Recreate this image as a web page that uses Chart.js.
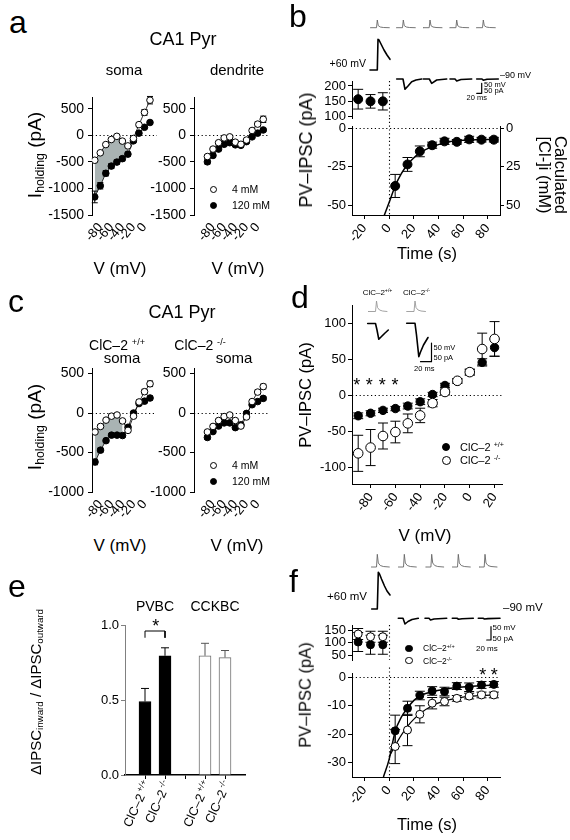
<!DOCTYPE html>
<html>
<head>
<meta charset="utf-8">
<script src="https://cdn.jsdelivr.net/npm/chart.js@4.4.0/dist/chart.umd.min.js"></script>
<style>
  html, body { margin: 0; padding: 0; background: #fff; }
  #fig { position: relative; width: 570px; height: 840px; overflow: hidden; font-family: "Liberation Sans", Arial, sans-serif; color: #000; }
  #fig canvas { position: absolute; }
  .t { position: absolute; white-space: nowrap; line-height: 1; }
  .t sup, .t sub { font-size: 0.65em; line-height: 0; }
  .t sup { vertical-align: 0.55em; }
  .t sub { vertical-align: -0.3em; }
  .dot { position: absolute; border-radius: 50%; box-sizing: border-box; border: 1px solid #000; }
</style>
</head>
<body>
<div id="fig"></div>
<script>
// ---- valeurs ----
const vSteps = [-90, -80, -70, -60, -50, -40, -30, -20, -10, 0, 10];
const vTicks = [-80, -60, -40, -20, 0];
const iTicksA = [-1500, -1000, -500, 0, 500];
const iTicksC = [-1000, -500, 0, 500];

// a : soma / dendrite, 4 mM (ouverts) et 120 mM (pleins)
const aSoma4 = [-470, -330, -175, -80, -20, -110, -200, -60, 200, 430, 660];
const aSoma4Err = [25, 25, 20, 20, 20, 25, 30, 30, 40, 55, 70];
const aSoma120 = [-1160, -950, -715, -580, -505, -440, -355, -105, 40, 150, 240];
const aSoma120Err = [110, 60, 50, 45, 40, 40, 35, 30, 30, 25, 30];
const aDend4 = [-400, -260, -140, -50, -30, -130, -170, -90, 90, 210, 300];
const aDend4Err = [30, 30, 25, 20, 20, 25, 25, 25, 30, 40, 60];
const aDend120 = [-500, -380, -260, -170, -140, -180, -190, -120, -30, 40, 100];
const aDend120Err = [40, 35, 30, 25, 25, 25, 25, 25, 25, 25, 30];

// c : ClC-2 +/+ et -/-
const cWT4 = [-240, -170, -90, -40, -25, -100, -220, -40, 140, 270, 370];
const cWT4Err = [20, 20, 15, 15, 15, 15, 20, 20, 25, 30, 35];
const cWT120 = [-620, -470, -350, -280, -280, -285, -180, 0, 120, 150, 190];
const cWT120Err = [35, 25, 20, 20, 20, 20, 20, 20, 20, 20, 25];
const cKO4 = [-240, -170, -95, -45, -25, -95, -165, -50, 145, 265, 335];
const cKO4Err = [20, 20, 15, 15, 15, 15, 20, 20, 20, 25, 30];
const cKO120 = [-310, -235, -165, -125, -125, -185, -150, -5, 105, 145, 185];
const cKO120Err = [25, 20, 20, 20, 20, 20, 20, 20, 20, 20, 20];

// b : PV-IPSC dans le temps
const timeTicks = [-20, 0, 20, 40, 60, 80];
const bBaseT = [-25, -15, -5];
const bBase = [157, 150, 150];
const bBaseErr = [32, 22, 28];
const bBaseTicks = [100, 150, 200];
const bT = [5, 15, 25, 35, 45, 55, 65, 75, 85];
const bIPSC = [-37.5, -23.5, -15, -11, -8.5, -8.8, -7.2, -7.4, -7.4];
const bErr = [7.5, 4.5, 3.5, 2, 2, 1.5, 2, 1.5, 1.5];
const bTicks = [-50, -25, 0];
const bFitT = [-4, 0, 5, 10, 15, 20, 25, 30, 40, 50, 60, 70, 85];
const bFit = [-57, -48.5, -37.5, -29.5, -23.5, -19.3, -16, -13.7, -10.6, -8.6, -7.8, -7.5, -7.3];

// d : courbe I-V ClC-2
const dV = [-90, -80, -70, -60, -50, -40, -30, -20, -10, 0, 10, 20];
const dWT = [-28.5, -25, -21, -18.5, -15, -9, 1, 13.5, 19.5, 32, 45.5, 66];
const dWTErr = [4, 3.5, 3, 3, 4, 4, 3, 3, 3, 4, 5, 12];
const dKO = [-80.5, -72.5, -56.5, -51, -39, -28, -11, 4.5, 20, 32, 64, 78];
const dKOErr = [25, 25, 18, 15, 13, 10, 5, 4, 3, 4, 22, 24];
const dTicksX = [-80, -60, -40, -20, 0, 20];
const dTicksY = [-100, -50, 0, 50, 100];

// e : rapport entrant / sortant
const eLabels = ['ClC–2 +/+', 'ClC–2 -/-', '', 'ClC–2 +/+', 'ClC–2 -/-'];
const ePvbcPos = [1, 2];
const ePvbc = [0.49, 0.795];
const ePvbcErr = [0.087, 0.053];
const eCckbcPos = [4, 5];
const eCckbc = [0.795, 0.783];
const eCckbcErr = [0.083, 0.047];
const eBracketX = [1, 1, 2, 2];
const eBracketY = [0.915, 0.96, 0.96, 0.915];

// f : ClC-2 +/+ (pleins) et -/- (ouverts)
const fBaseWT = [102, 91, 91];
const fBaseWTErr = [38, 38, 38];
const fBaseKO = [134, 123, 123];
const fBaseKOErr = [22, 22, 22];
const fBaseTicks = [50, 100, 150];
const fWT = [-18.8, -10.9, -6.4, -4.8, -5, -3.1, -3.5, -2.7, -2.5];
const fWTErr = [5.5, 2.5, 1.5, 1.5, 1.5, 1.2, 1.5, 1.2, 1];
const fKO = [-24.3, -18.5, -13, -9.1, -8.5, -7.4, -6.6, -6.2, -6.2];
const fKOErr = [6, 5.5, 3, 2, 1.5, 1, 1, 1, 1];
const fTicks = [-30, -20, -10, 0];
const fFitWTT = [-4.5, 0, 5, 10, 15, 20, 25, 35, 45, 55, 65, 85];
const fFitWT = [-35, -29, -19, -14, -10.8, -8.2, -6.6, -5, -4.2, -3.6, -3.2, -2.7];
const fFitKOT = [0, 5, 10, 15, 20, 25, 35, 45, 55, 65, 85];
const fFitKO = [-28, -24, -20.3, -17.2, -14.8, -12.8, -10, -8.3, -7.3, -6.7, -6.2];

// traces (ms, unités arbitraires)
const bSpikePeaks = [57.3, 83.3, 110, 136.7, 163.3];
const bSpikeDt = [-7, -0.8, 0, 1, 3, 6, 12];
const bSpikeDv = [0, 0, 7.7, 2, 0.7, 0.2, 0];
const bStepT = [50, 57.3, 58, 59, 61, 64, 67, 70];
const bStepV = [45, 45, 75.7, 75, 71, 65, 60, 55.7];
const bSweepT = [[76.7, 83, 85, 88, 91.7, 96, 101.7], [103.3, 109.3, 111.7, 116.7, 126.7], [130, 135, 136.7, 141, 151.7], [156.7, 162, 163.3, 167, 178.3]];
const bSweepV = [[36, 36, 25.7, 29, 33.3, 35, 36], [36, 36, 31.7, 35, 36], [36, 36, 34, 35.5, 36], [36, 36, 34.8, 35.7, 36]];
const bBarT = [156.7, 161.7, 161.7];
const bBarV = [21.7, 21.7, 31.7];

const dSpikePeaks = [16.5, 55];
const dSpikeDt = [-8.5, -1, 0, 1, 3, 6, 10.5];
const dSpikeDv = [0, 0, 10.5, 4, 1.5, 0.5, 0];
const dSweepT = [[7.7, 15.5, 17, 18.8, 21, 24.5, 28.3], [46.7, 55, 56.5, 58.8, 60.5, 63.5, 68]];
const dSweepV = [[56.5, 56.5, 50, 40.7, 43, 46.5, 50], [56.7, 56.7, 45, 23.3, 28, 35, 42.5]];
const dBarT = [60.5, 71.5, 71.5];
const dBarV = [18.3, 18.3, 37];

const fSpikePeaks = [57.3, 84.3, 111.7, 138.3, 165];
const fSpikeDt = [-6, -0.8, 0, 1, 3, 6, 12];
const fSpikeDv = [0, 0, 12.7, 4, 1.5, 0.5, 0];
const fStepT = [51.7, 57.3, 58.3, 59.5, 61.5, 64.5, 67, 70];
const fStepV = [36, 36, 72.7, 71, 66, 59, 54, 50];
const fSweepT = [[78.3, 83, 85, 88, 92, 98.3], [105, 109, 110.5, 114, 126.7], [132.3, 137, 138.5, 142, 153.3], [158.3, 163, 164.5, 168, 180]];
const fSweepV = [[26.7, 26.7, 21, 23.5, 25.5, 26.7], [26.7, 26.7, 25, 26, 26.7], [26.7, 26.7, 25.8, 26.3, 26.7], [26.7, 26.7, 26, 26.4, 26.7]];
const fBarT = [166.7, 171, 171];
const fBarV = [5, 5, 18.3];

// ---- mise en place ----
const fig = document.getElementById('fig');
const shadeGrey = '#a9b3b3';
const fontFamily = '"Liberation Sans", Arial, sans-serif';
const zip = (xs, ys) => xs.map((x, i) => ({x: x, y: ys[i]}));

Chart.defaults.font.family = fontFamily;
Chart.defaults.color = '#000';

// barres d'erreur
const errorBars = {
  id: 'errorBars',
  beforeDatasetsDraw(chart) {
    const ctx = chart.ctx;
    chart.data.datasets.forEach((ds, i) => {
      if (!ds.errors) return;
      const meta = chart.getDatasetMeta(i);
      const ys = chart.scales[meta.yAxisID];
      const cap = ds.capHalf || 4;
      ctx.save();
      ctx.strokeStyle = ds.errorColor || '#000';
      ctx.lineWidth = 1;
      meta.data.forEach((el, j) => {
        const e = ds.errors[j];
        if (e == null) return;
        const v = ds.data[j].y;
        const yTop = ys.getPixelForValue(v + e);
        const yBot = ds.errorUpOnly ? el.y : ys.getPixelForValue(v - e);
        ctx.beginPath();
        ctx.moveTo(el.x, yTop); ctx.lineTo(el.x, yBot);
        ctx.moveTo(el.x - cap, yTop); ctx.lineTo(el.x + cap, yTop);
        if (!ds.errorUpOnly) { ctx.moveTo(el.x - cap, yBot); ctx.lineTo(el.x + cap, yBot); }
        ctx.stroke();
      });
      ctx.restore();
    });
  }
};

// lignes pointillées à zéro
const refLines = {
  id: 'refLines',
  beforeDatasetsDraw(chart, args, opts) {
    const a = chart.chartArea, ctx = chart.ctx;
    ctx.save();
    ctx.setLineDash([1.2, 2.6]);
    ctx.lineWidth = 1.1;
    ctx.strokeStyle = '#000';
    (opts.h || []).forEach(v => {
      const y = Math.round(chart.scales.y.getPixelForValue(v)) + 0.5;
      ctx.beginPath(); ctx.moveTo(a.left, y); ctx.lineTo(a.right, y); ctx.stroke();
    });
    (opts.v || []).forEach(v => {
      const x = Math.round(chart.scales.x.getPixelForValue(v)) + 0.5;
      ctx.beginPath(); ctx.moveTo(x, a.top - (opts.vUp || 0)); ctx.lineTo(x, a.bottom); ctx.stroke();
    });
    ctx.restore();
  }
};

// étiquettes avec exposant (panneau e)
const supTicks = {
  id: 'supTicks',
  afterDraw(chart, args, opts) {
    if (!opts.labels) return;
    const ctx = chart.ctx, sx = chart.scales.x, y0 = chart.chartArea.bottom + 7;
    opts.labels.forEach((lab, i) => {
      if (!lab) return;
      const parts = lab.split(' ');
      ctx.save();
      ctx.translate(sx.getPixelForValue(opts.values[i]) + 3, y0);
      ctx.rotate(-opts.rot * Math.PI / 180);
      ctx.textAlign = 'right';
      ctx.textBaseline = 'middle';
      ctx.fillStyle = '#000';
      ctx.font = '8.5px ' + fontFamily;
      const sw = ctx.measureText(parts[1]).width;
      ctx.fillText(parts[1], 0, -4);
      ctx.font = '12.5px ' + fontFamily;
      ctx.fillText(parts[0], -sw - 2, 0);
      ctx.restore();
    });
  }
};
Chart.register(errorBars, refLines, supTicks);

function makeChart(area, pad, cfg) {
  const c = document.createElement('canvas');
  const w = area.r - area.l + pad.l + pad.r;
  const h = area.b - area.t + pad.t + pad.b;
  c.width = w; c.height = h;
  c.style.left = (area.l - pad.l) + 'px';
  c.style.top = (area.t - pad.t) + 'px';
  c.style.width = w + 'px';
  c.style.height = h + 'px';
  fig.appendChild(c);
  const o = cfg.options = cfg.options || {};
  o.responsive = false;
  o.animation = false;
  o.devicePixelRatio = 1;
  const used = {left: false, right: false, bottom: false};
  Object.values(o.scales || {}).forEach(s => {
    if (s.display === false) return;
    const side = s.position;
    used[side] = true;
    const size = side === 'bottom' ? pad.b : side === 'left' ? pad.l : pad.r;
    s.afterFit = sc => {
      if (side === 'bottom') sc.height = size; else sc.width = size;
      sc.paddingLeft = sc.paddingRight = sc.paddingTop = sc.paddingBottom = 0;
    };
  });
  o.layout = {padding: {left: used.left ? 0 : pad.l, right: used.right ? 0 : pad.r, top: pad.t, bottom: used.bottom ? 0 : pad.b}};
  o.plugins = Object.assign({legend: {display: false}, tooltip: {enabled: false}}, o.plugins || {});
  return new Chart(c, cfg);
}

function axis(pos, min, max, ticks, o = {}) {
  return {
    type: 'linear', position: pos, min: min, max: max, bounds: 'data',
    display: !o.hidden, offset: false,
    afterBuildTicks: s => { s.ticks = ticks.map(v => ({value: v})); },
    ticks: {
      autoSkip: false, color: '#000', font: {size: o.size || 13},
      padding: o.padding != null ? o.padding : 2,
      minRotation: o.rot || 0, maxRotation: o.rot || 0,
      callback: o.fmt || (v => String(v))
    },
    grid: {display: o.marks !== false, offset: false, drawOnChartArea: false, drawTicks: true, tickLength: 4, color: o.color || '#000', lineWidth: 1},
    border: {display: o.line !== false, color: o.color || '#000', width: o.lw || 1}
  };
}

function pointSet(data, errors, filled, r, extra) {
  return Object.assign({
    data: data, errors: errors, showLine: false,
    pointRadius: r, pointBorderWidth: 1, pointBorderColor: '#000',
    pointBackgroundColor: filled ? '#000' : '#fff'
  }, extra || {});
}

function label(html, x, y, size, o = {}) {
  const d = document.createElement('div');
  d.className = 't';
  d.innerHTML = html;
  const tx = o.align === 'left' ? '0' : o.align === 'right' ? '-100%' : '-50%';
  d.style.left = x + 'px';
  d.style.top = y + 'px';
  d.style.fontSize = size + 'px';
  if (o.lh) { d.style.lineHeight = o.lh; d.style.textAlign = 'center'; }
  d.style.transform = 'translate(' + tx + ', -50%)' + (o.rot ? ' rotate(' + o.rot + 'deg)' : '');
  fig.appendChild(d);
}

function marker(x, y, r, filled) {
  const d = document.createElement('div');
  d.className = 'dot';
  d.style.left = (x - r) + 'px';
  d.style.top = (y - r) + 'px';
  d.style.width = d.style.height = (2 * r) + 'px';
  d.style.background = filled ? '#000' : '#fff';
  fig.appendChild(d);
}

// courbes I-V des panneaux a et c
function makeIV(area, xr, yr, yTicks, open, openErr, filled, filledErr, shadeTo) {
  const lineOpts = {showLine: true, borderColor: '#000', borderWidth: 0.8, capHalf: 3};
  const ds = [
    pointSet(zip(vSteps, open), openErr, false, 3.3, Object.assign({order: 0}, lineOpts)),
    pointSet(zip(vSteps, filled), filledErr, true, 3.3, Object.assign({order: 1}, lineOpts))
  ];
  if (shadeTo != null) {
    const k = vSteps.indexOf(shadeTo) + 1;
    ds.push({data: zip(vSteps, filled).slice(0, k), showLine: true, borderWidth: 0, pointRadius: 0, fill: false, order: 3});
    ds.push({data: zip(vSteps, open).slice(0, k), showLine: true, borderWidth: 0, pointRadius: 0, fill: '-1', backgroundColor: shadeGrey, order: 2});
  }
  makeChart(area, {l: 52, r: 8, t: 10, b: 26}, {
    type: 'scatter',
    data: {datasets: ds},
    options: {
      scales: {
        x: axis('bottom', xr[0], xr[1], vTicks, {rot: 50, size: 13, line: false, marks: false, padding: 1}),
        y: axis('left', yr[0], yr[1], yTicks, {size: 14, padding: 4})
      },
      plugins: {refLines: {h: [0]}, filler: {drawTime: 'beforeDatasetsDraw'}}
    }
  });
}

function spikes(peaks, dt, dv, base) {
  return peaks.map(p => ({t: dt.map(d => p + d), v: dv.map(d => base + d)}));
}

function traceChart(box, lines) {
  makeChart({l: box.l, r: box.l + box.w, t: box.t, b: box.t + box.h}, {l: 0, r: 0, t: 0, b: 0}, {
    type: 'scatter',
    data: {datasets: lines.map(L => ({
      data: zip(L.t, L.v), showLine: true, pointRadius: 0, clip: false,
      borderColor: L.color, borderWidth: L.width, borderJoinStyle: 'round', borderCapStyle: 'round'
    }))},
    options: {scales: {
      x: {type: 'linear', display: false, min: 0, max: box.w},
      y: {type: 'linear', display: false, min: 0, max: box.h}
    }}
  });
}

// ---------- a ----------
makeIV({l: 92, r: 157, t: 97, b: 215}, [-95, 22.7], [-1500, 720], iTicksA, aSoma4, aSoma4Err, aSoma120, aSoma120Err, -30);
makeIV({l: 194, r: 268, t: 97, b: 215}, [-114, 18.5], [-1500, 720], iTicksA, aDend4, aDend4Err, aDend120, aDend120Err, null);
label('a', 9, 22, 32, {align: 'left'});
label('CA1 Pyr', 183, 39, 18);
label('soma', 124, 69, 15);
label('dendrite', 237, 69, 15);
label('I<sub>holding</sub> (pA)', 34, 155, 19, {rot: -90});
label('V (mV)', 120, 268, 17);
label('V (mV)', 238, 268, 17);
marker(213, 189, 3.5, false); label('4 mM', 232, 189, 10.5, {align: 'left'});
marker(213, 205, 3.5, true); label('120 mM', 232, 205, 10.5, {align: 'left'});

// ---------- c ----------
makeIV({l: 92, r: 155, t: 368, b: 492}, [-95.5, 19], [-1000, 570], iTicksC, cWT4, cWT4Err, cWT120, cWT120Err, -40);
makeIV({l: 194, r: 268, t: 368, b: 492}, [-114, 18.5], [-1000, 570], iTicksC, cKO4, cKO4Err, cKO120, cKO120Err, null);
label('c', 8, 301, 32, {align: 'left'});
label('CA1 Pyr', 182, 312, 18);
label('ClC–2 <sup>+/+</sup>', 117, 345, 14);
label('ClC–2 <sup>-/-</sup>', 200, 345, 14);
label('soma', 122, 357, 15);
label('soma', 234, 357, 15);
label('I<sub>holding</sub> (pA)', 34, 427, 19, {rot: -90});
label('V (mV)', 120, 545, 17);
label('V (mV)', 237, 545, 17);
marker(213, 465, 3.5, false); label('4 mM', 232, 465, 10.5, {align: 'left'});
marker(213, 481, 3.5, true); label('120 mM', 232, 481, 10.5, {align: 'left'});

// ---------- b ----------
makeChart({l: 352, r: 500, t: 81, b: 118}, {l: 40, r: 30, t: 8, b: 8}, {
  type: 'scatter',
  data: {datasets: [pointSet(zip(bBaseT, bBase), bBaseErr, true, 4.5, {capHalf: 5})]},
  options: {
    scales: {x: axis('bottom', -30, 90, [], {hidden: true}), y: axis('left', 96, 216, bBaseTicks)},
    plugins: {refLines: {v: [0]}}
  }
});
makeChart({l: 352, r: 500, t: 126, b: 215}, {l: 40, r: 30, t: 8, b: 40}, {
  type: 'scatter',
  data: {datasets: [
    pointSet(zip(bT, bIPSC), bErr, true, 4.5, {capHalf: 5, order: 0}),
    {data: zip(bFitT, bFit), showLine: true, pointRadius: 0, borderColor: '#000', borderWidth: 1.5, cubicInterpolationMode: 'monotone', order: 1}
  ]},
  options: {
    scales: {
      x: axis('bottom', -30, 90, timeTicks, {rot: 50}),
      y: axis('left', -56.4, 1.5, bTicks),
      y2: axis('right', -56.4, 1.5, bTicks, {fmt: v => String(Math.abs(v))})
    },
    plugins: {refLines: {h: [0], v: [0], vUp: 8}}
  }
});
traceChart({l: 320, t: 15, w: 210, h: 100}, [
  ...spikes(bSpikePeaks, bSpikeDt, bSpikeDv, 87.3).map(s => ({t: s.t, v: s.v, color: '#666', width: 0.9})),
  {t: bStepT, v: bStepV, color: '#000', width: 1.6},
  ...bSweepT.map((t, i) => ({t: t, v: bSweepV[i], color: '#000', width: 1.6})),
  {t: bBarT, v: bBarV, color: '#000', width: 1.2}
]);
label('b', 289, 16, 32, {align: 'left'});
label('+60 mV', 366, 63, 10.5, {align: 'right'});
label('–90 mV', 500, 75, 9, {align: 'left'});
label('50 mV', 484, 85, 7.5, {align: 'left'});
label('50 pA', 484, 91, 7.5, {align: 'left'});
label('20 ms', 466.5, 97.5, 7.5, {align: 'left'});
label('PV–IPSC (pA)', 306, 150, 18, {rot: -90});
label('Calculated<br>[Cl-]i (mM)', 552, 175, 16.5, {rot: 90, lh: 0.95});
label('Time (s)', 427, 253, 16.5);

// ---------- d ----------
makeChart({l: 352, r: 502, t: 305, b: 484}, {l: 40, r: 10, t: 8, b: 40}, {
  type: 'scatter',
  data: {datasets: [
    pointSet(zip(dV, dKO), dKOErr, false, 4.8, {capHalf: 5, order: 0}),
    pointSet(zip(dV, dWT), dWTErr, true, 4.2, {capHalf: 5, order: 1})
  ]},
  options: {
    scales: {x: axis('bottom', -95, 26, dTicksX, {rot: 55}), y: axis('left', -123, 125, dTicksY)},
    plugins: {refLines: {h: [0]}}
  }
});
traceChart({l: 360, t: 285, w: 100, h: 95}, [
  ...spikes(dSpikePeaks, dSpikeDt, dSpikeDv, 68.5).map(s => ({t: s.t, v: s.v, color: '#999', width: 0.9})),
  ...dSweepT.map((t, i) => ({t: t, v: dSweepV[i], color: '#000', width: 1.6})),
  {t: dBarT, v: dBarV, color: '#000', width: 1.2}
]);
label('d', 291, 297, 32, {align: 'left'});
label('ClC–2<sup>+/+</sup>', 377.5, 292.5, 8);
label('ClC–2<sup>-/-</sup>', 416.5, 292.5, 8);
label('50 mV', 433.5, 347.5, 7.5, {align: 'left'});
label('50 pA', 433.5, 357.5, 7.5, {align: 'left'});
label('20 ms', 414, 368.5, 7.5, {align: 'left'});
['*', '*', '*', '*'].forEach((s, i) => label(s, [356.7, 369.3, 382.3, 395][i], 385, 18));
marker(446, 447, 4.3, true); label('ClC–2 <sup>+/+</sup>', 460, 447, 11, {align: 'left'});
marker(446, 460, 4.5, false); label('ClC–2 <sup>-/-</sup>', 460, 460, 11, {align: 'left'});
label('PV–IPSC (pA)', 305, 395, 16.5, {rot: -90});
label('V (mV)', 425, 535, 17);

// ---------- e ----------
makeChart({l: 125, r: 245, t: 625, b: 775}, {l: 40, r: 10, t: 10, b: 63}, {
  type: 'bar',
  data: {datasets: [
    {type: 'line', data: zip(eBracketX, eBracketY), borderColor: '#000', borderWidth: 1, pointRadius: 0, clip: false, order: 0},
    {data: zip(ePvbcPos, ePvbc), errors: ePvbcErr, errorUpOnly: true, capHalf: 4, grouped: false,
     backgroundColor: '#000', borderColor: '#000', borderWidth: 1, barThickness: 12, order: 1},
    {data: zip(eCckbcPos, eCckbc), errors: eCckbcErr, errorUpOnly: true, capHalf: 4, grouped: false, errorColor: '#555',
     backgroundColor: '#fff', borderColor: '#6e6e6e', borderWidth: 1, barThickness: 12, order: 1}
  ]},
  options: {
    scales: {
      x: axis('bottom', 0, 6, [1, 2, 3, 4, 5], {lw: 1.5, fmt: () => ''}),
      y: axis('left', 0, 1, [0, 0.5, 1], {fmt: v => v.toFixed(1), color: '#808080'})
    },
    plugins: {supTicks: {labels: eLabels, values: [1, 2, 3, 4, 5], rot: 65}}
  }
});
label('e', 8, 586, 32, {align: 'left'});
label('PVBC', 155, 606, 14);
label('CCKBC', 215, 606, 14);
label('*', 155.7, 626, 18);
label('ΔIPSC<sub>inward</sub> / ΔIPSC<sub>outward</sub>', 35, 692, 15, {rot: -90});

// ---------- f ----------
makeChart({l: 352, r: 500, t: 625, b: 660}, {l: 40, r: 10, t: 8, b: 8}, {
  type: 'scatter',
  data: {datasets: [
    pointSet(zip(bBaseT, fBaseKO), fBaseKOErr, false, 4, {capHalf: 5, order: 0}),
    pointSet(zip(bBaseT, fBaseWT), fBaseWTErr, true, 4, {capHalf: 5, order: 1})
  ]},
  options: {
    scales: {x: axis('bottom', -30, 90, [], {hidden: true}), y: axis('left', 30, 170, fBaseTicks)},
    plugins: {refLines: {v: [0]}}
  }
});
makeChart({l: 352, r: 500, t: 673, b: 777}, {l: 40, r: 10, t: 8, b: 40}, {
  type: 'scatter',
  data: {datasets: [
    pointSet(zip(bT, fKO), fKOErr, false, 4, {capHalf: 5, order: 0}),
    pointSet(zip(bT, fWT), fWTErr, true, 4, {capHalf: 5, order: 1}),
    {data: zip(fFitWTT, fFitWT), showLine: true, pointRadius: 0, borderColor: '#000', borderWidth: 1.5, cubicInterpolationMode: 'monotone', order: 2},
    {data: zip(fFitKOT, fFitKO), showLine: true, pointRadius: 0, borderColor: '#000', borderWidth: 1.2, cubicInterpolationMode: 'monotone', order: 2}
  ]},
  options: {
    scales: {x: axis('bottom', -30, 90, timeTicks, {rot: 50}), y: axis('left', -35, 1.5, fTicks)},
    plugins: {refLines: {h: [0], v: [0], vUp: 13}}
  }
});
traceChart({l: 320, t: 545, w: 210, h: 100}, [
  ...spikes(fSpikePeaks, fSpikeDt, fSpikeDv, 78).map(s => ({t: s.t, v: s.v, color: '#666', width: 0.9})),
  {t: fStepT, v: fStepV, color: '#000', width: 1.6},
  ...fSweepT.map((t, i) => ({t: t, v: fSweepV[i], color: '#000', width: 1.6})),
  {t: fBarT, v: fBarV, color: '#000', width: 1.2}
]);
label('f', 289, 581, 32, {align: 'left'});
label('+60 mV', 367, 597, 11.5, {align: 'right'});
label('–90 mV', 503, 608, 11.5, {align: 'left'});
label('50 mV', 492.5, 628, 8, {align: 'left'});
label('50 pA', 492.5, 639, 8, {align: 'left'});
label('20 ms', 476, 648.5, 8, {align: 'left'});
marker(409, 648.3, 3.7, true); label('ClC–2<sup>+/+</sup>', 423, 648.3, 8.5, {align: 'left'});
marker(409, 660.7, 3.7, false); label('ClC–2<sup>-/-</sup>', 423, 660.7, 8.5, {align: 'left'});
label('*', 482.7, 674.7, 18);
label('*', 494.3, 674.7, 18);
label('PV–IPSC (pA)', 305, 695, 16.5, {rot: -90});
label('Time (s)', 427, 824, 16.5);
</script>
</body>
</html>
